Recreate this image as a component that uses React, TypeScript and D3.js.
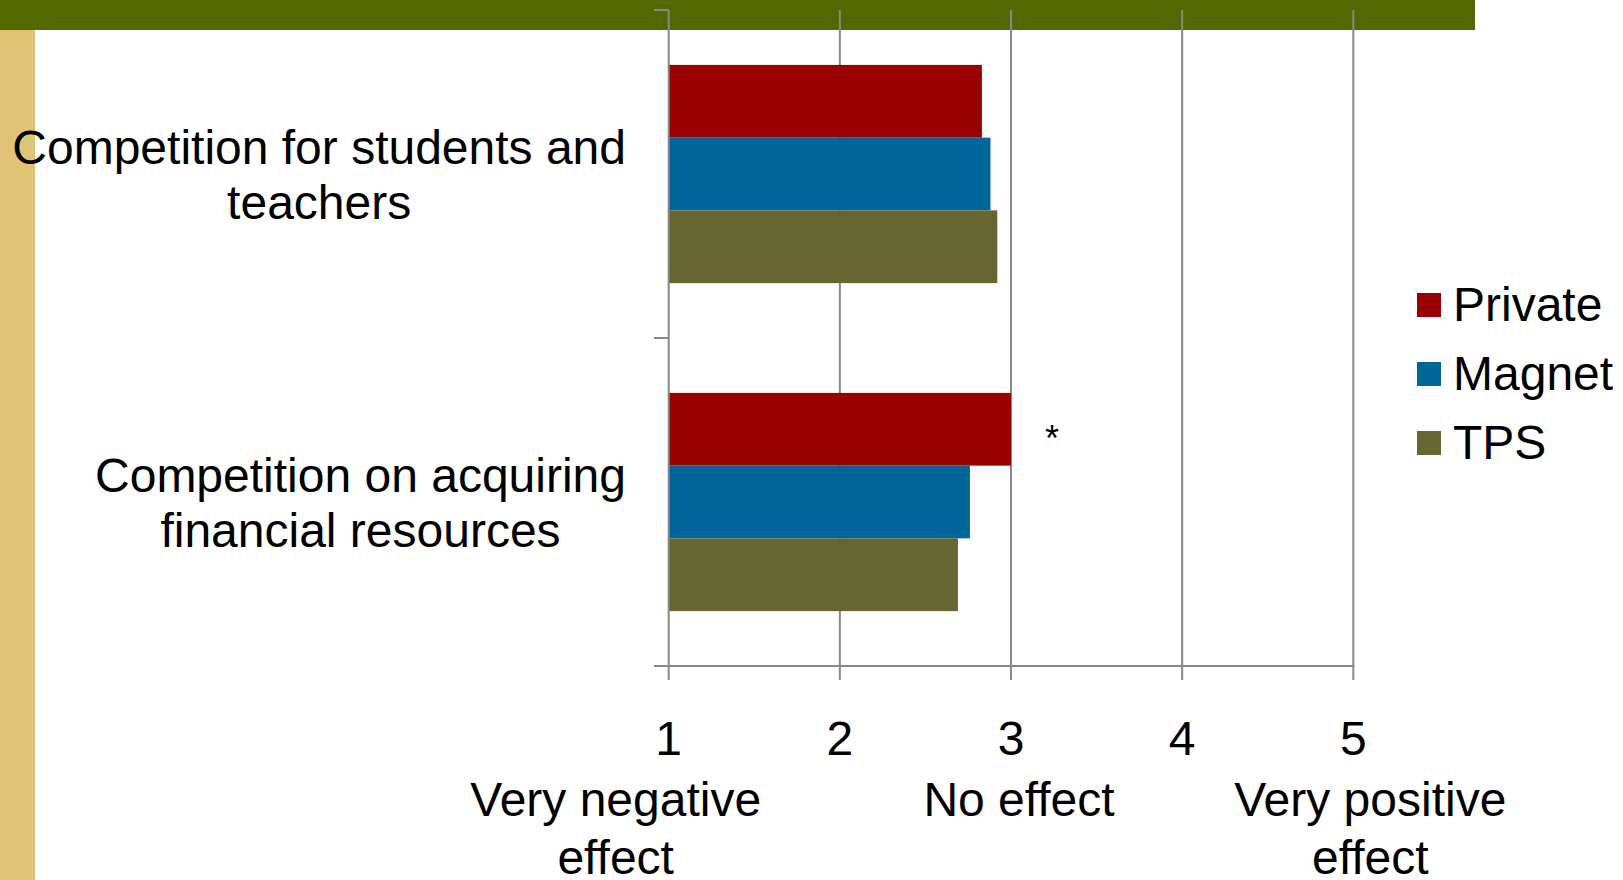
import React, { useEffect, useRef } from "react";
import * as d3 from "d3";

const categories = ["Competition for students and|teachers", "Competition on acquiring|financial resources"];
const seriesNames = ["Private", "Magnet", "TPS"];
const privateValues = [2.83, 3.0];
const magnetValues = [2.88, 2.76];
const tpsValues = [2.92, 2.69];
const tickValues = [1, 2, 3, 4, 5];
const scaleLabels = [
  { at: 1, text: "Very negative|effect" },
  { at: 3, text: "No effect" },
  { at: 5, text: "Very positive|effect" },
];
const annotations = [{ category: 1, series: "Private", text: "*" }];

const COLORS: Record<string, string> = { Private: "#990000", Magnet: "#006699", TPS: "#666633" };
const FONT = "'Liberation Sans', Arial, Helvetica, sans-serif";

export default function App() {
  const ref = useRef<SVGSVGElement | null>(null);

  useEffect(() => {
    document.body.style.margin = "0";
    const svg = d3.select(ref.current);
    svg.selectAll("*").remove();

    // background decorations
    svg.append("rect").attr("x", 0).attr("y", 0).attr("width", 1475).attr("height", 30).attr("fill", "#536800");
    svg.append("rect").attr("x", 0).attr("y", 30).attr("width", 35).attr("height", 850).attr("fill", "#DFC477");

    const x = d3.scaleLinear().domain([1, 5]).range([668.7, 1353.3]);
    const y0 = d3.scaleBand<string>().domain(categories).range([10, 666]).padding(0);
    const y1 = d3.scaleBand<string>().domain(seriesNames).range([0, y0.bandwidth()]).paddingInner(0).paddingOuter(0.755);

    const valuesBySeries: Record<string, number[]> = { Private: privateValues, Magnet: magnetValues, TPS: tpsValues };
    const grid = "#888888";

    // gridlines
    svg.append("g").selectAll("line").data(tickValues.slice(1)).join("line")
      .attr("x1", (d) => x(d)).attr("x2", (d) => x(d))
      .attr("y1", 10).attr("y2", 680)
      .attr("stroke", grid).attr("stroke-width", 2);

    // bars
    const g = svg.append("g");
    categories.forEach((c, ci) => {
      seriesNames.forEach((s) => {
        const v = valuesBySeries[s][ci];
        g.append("rect")
          .attr("x", x(1))
          .attr("y", (y0(c) as number) + (y1(s) as number))
          .attr("width", x(v) - x(1))
          .attr("height", y1.bandwidth())
          .attr("fill", COLORS[s]);
      });
    });

    // axes
    const axisG = svg.append("g");
    axisG.append("line").attr("x1", x(1)).attr("x2", x(1)).attr("y1", 10).attr("y2", 680).attr("stroke", grid).attr("stroke-width", 2);
    axisG.append("line").attr("x1", 654).attr("x2", x(5) + 1).attr("y1", 666).attr("y2", 666).attr("stroke", grid).attr("stroke-width", 2);
    const yTicks = [10, ...categories.map((c) => (y0(c) as number) + y0.bandwidth())];
    axisG.selectAll("line.yt").data(yTicks).join("line").attr("class", "yt")
      .attr("x1", 654).attr("x2", x(1)).attr("y1", (d) => d).attr("y2", (d) => d)
      .attr("stroke", grid).attr("stroke-width", 2);

    // tick labels
    svg.append("g").selectAll("text").data(tickValues).join("text")
      .attr("x", (d) => x(d)).attr("y", 755)
      .attr("text-anchor", "middle").attr("font-family", FONT).attr("font-size", 48).attr("fill", "#000")
      .text((d) => String(d));

    // descriptive scale labels
    const descOffsets: Record<number, number> = { 1: -53, 3: 8, 5: 17 };
    scaleLabels.forEach((l) => {
      const lines = l.text.split("|");
      const t = svg.append("text").attr("font-family", FONT).attr("font-size", 48).attr("text-anchor", "middle").attr("fill", "#000");
      lines.forEach((ln, i) => {
        t.append("tspan").attr("x", x(l.at) + descOffsets[l.at]).attr("y", 816 + i * 58).text(ln);
      });
    });

    // category labels (block right-aligned at 626, lines centered)
    const canvas = document.createElement("canvas");
    const ctx = canvas.getContext("2d")!;
    ctx.font = `48px ${FONT}`;
    categories.forEach((c) => {
      const lines = c.split("|");
      const maxW = d3.max(lines, (ln) => ctx.measureText(ln).width) as number;
      const cx = 626 - maxW / 2;
      const center = (y0(c) as number) + y0.bandwidth() / 2;
      const t = svg.append("text").attr("font-family", FONT).attr("font-size", 48).attr("text-anchor", "middle").attr("fill", "#000");
      lines.forEach((ln, i) => {
        t.append("tspan").attr("x", cx).attr("y", center + 17 + (i - (lines.length - 1) / 2) * 55).text(ln);
      });
    });

    // annotation
    annotations.forEach((a) => {
      const c = categories[a.category];
      const v = valuesBySeries[a.series][a.category];
      const yc = (y0(c) as number) + (y1(a.series) as number) + y1.bandwidth() / 2;
      svg.append("text").attr("x", x(v) + 41).attr("y", yc + 22)
        .attr("text-anchor", "middle").attr("font-family", FONT).attr("font-size", 36).attr("fill", "#000")
        .text(a.text);
    });

    // legend
    const lg = svg.append("g");
    seriesNames.forEach((s, i) => {
      const yy = 293 + i * 69;
      lg.append("rect").attr("x", 1417).attr("y", yy).attr("width", 24).attr("height", 24).attr("fill", COLORS[s]);
      lg.append("text").attr("x", 1453).attr("y", yy + 28).attr("font-family", FONT).attr("font-size", 48).attr("fill", "#000").text(s);
    });
  }, []);

  return <svg ref={ref} width={1623} height={880} style={{ display: "block", background: "#fff" }} />;
}
